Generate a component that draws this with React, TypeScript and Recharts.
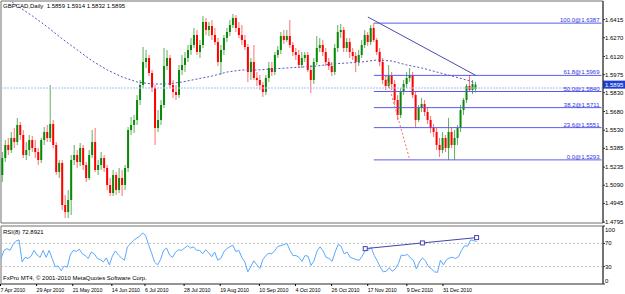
import React from 'react'
import { ComposedChart, Bar, Line, XAxis, YAxis, ReferenceLine, ReferenceArea } from 'recharts'

// GBPCAD daily, one entry per bar
const opens = [
  1.5172, 1.5308, 1.5412, 1.5372, 1.5468, 1.5436, 1.5572, 1.5492, 1.5332, 1.5372,
  1.5452, 1.5388, 1.5356, 1.5292, 1.5452, 1.5516, 1.5468, 1.5580, 1.5412, 1.5196,
  1.5268, 1.4932, 1.4876, 1.4972, 1.5292, 1.5332, 1.5276, 1.5388, 1.5252, 1.5148,
  1.5332, 1.5436, 1.5212, 1.5252, 1.5308, 1.5228, 1.5092, 1.5028, 1.5172, 1.5052,
  1.5148, 1.5092, 1.5228, 1.5532, 1.5572, 1.5612, 1.5772, 1.5892, 1.6076, 1.6108,
  1.5988, 1.5868, 1.5548, 1.5612, 1.5732, 1.6044, 1.6108, 1.5892, 1.5836, 1.5812,
  1.6012, 1.6052, 1.6108, 1.6172, 1.6212, 1.6292, 1.6156, 1.6212, 1.6396, 1.6332,
  1.6364, 1.6292, 1.6236, 1.6076, 1.6172, 1.6268, 1.6316, 1.6372, 1.6428, 1.6348,
  1.6292, 1.6252, 1.6196, 1.5996, 1.6076, 1.5948, 1.5932, 1.5892, 1.5836, 1.5948,
  1.6028, 1.5996, 1.6132, 1.6172, 1.6284, 1.6252, 1.6284, 1.6212, 1.6156, 1.6132,
  1.6052, 1.6108, 1.6132, 1.6012, 1.5932, 1.6076, 1.6188, 1.6212, 1.6156, 1.6076,
  1.6044, 1.5996, 1.6188, 1.6316, 1.6332, 1.6188, 1.6236, 1.6156, 1.6124, 1.6076,
  1.6132, 1.6212, 1.6292, 1.6236, 1.6348, 1.6252, 1.6156, 1.6076, 1.5932, 1.5884,
  1.5964, 1.5900, 1.5772, 1.5652, 1.5836, 1.5900, 1.5948, 1.5972, 1.5812, 1.5612,
  1.5708, 1.5740, 1.5676, 1.5612, 1.5548, 1.5516, 1.5412, 1.5372, 1.5468, 1.5388,
  1.5516, 1.5412, 1.5468, 1.5548, 1.5692, 1.5772, 1.5884, 1.5852, 1.5859,
]
const highs = [
  1.5356, 1.5452, 1.5468, 1.5516, 1.5548, 1.5628, 1.5596, 1.5532, 1.5436, 1.5492,
  1.5484, 1.5452, 1.5388, 1.5468, 1.5556, 1.5572, 1.5892, 1.5612, 1.5436, 1.5292,
  1.5292, 1.5012, 1.5052, 1.5332, 1.5412, 1.5372, 1.5428, 1.5412, 1.5276, 1.5372,
  1.5532, 1.5548, 1.5292, 1.5356, 1.5332, 1.5252, 1.5148, 1.5212, 1.5196, 1.5228,
  1.5212, 1.5252, 1.5556, 1.5636, 1.5652, 1.5812, 1.5932, 1.6196, 1.6172, 1.6132,
  1.6012, 1.5892, 1.5692, 1.5772, 1.6188, 1.6172, 1.6132, 1.5932, 1.5892, 1.6052,
  1.6132, 1.6156, 1.6212, 1.6268, 1.6348, 1.6332, 1.6252, 1.6444, 1.6428, 1.6396,
  1.6412, 1.6348, 1.6268, 1.6212, 1.6292, 1.6348, 1.6412, 1.6460, 1.6452, 1.6396,
  1.6372, 1.6292, 1.6220, 1.6108, 1.6212, 1.5996, 1.5972, 1.5916, 1.5972, 1.6076,
  1.6076, 1.6156, 1.6204, 1.6316, 1.6332, 1.6332, 1.6412, 1.6236, 1.6188, 1.6172,
  1.6156, 1.6156, 1.6156, 1.6052, 1.6108, 1.6284, 1.6268, 1.6252, 1.6188, 1.6108,
  1.6076, 1.6220, 1.6372, 1.6380, 1.6356, 1.6268, 1.6268, 1.6188, 1.6156, 1.6172,
  1.6252, 1.6332, 1.6316, 1.6372, 1.6387, 1.6268, 1.6188, 1.6108, 1.5964, 1.6052,
  1.5996, 1.5932, 1.5812, 1.5868, 1.5932, 1.5996, 1.6028, 1.5996, 1.5836, 1.5732,
  1.5788, 1.5772, 1.5708, 1.5644, 1.5580, 1.5548, 1.5468, 1.5516, 1.5492, 1.5628,
  1.5548, 1.5532, 1.5572, 1.5732, 1.5788, 1.5900, 1.5969, 1.5932, 1.5914,
]
const lows = [
  1.5116, 1.5276, 1.5332, 1.5348, 1.5388, 1.5412, 1.5452, 1.5308, 1.5292, 1.5324,
  1.5356, 1.5308, 1.5252, 1.5268, 1.5412, 1.5436, 1.5436, 1.5388, 1.5172, 1.5148,
  1.4892, 1.4828, 1.4828, 1.4852, 1.5252, 1.5228, 1.5244, 1.5212, 1.5116, 1.5132,
  1.5308, 1.5196, 1.5172, 1.5212, 1.5196, 1.5052, 1.5004, 1.5004, 1.5012, 1.5028,
  1.5004, 1.5052, 1.5196, 1.5492, 1.5508, 1.5572, 1.5732, 1.5868, 1.6028, 1.5964,
  1.5836, 1.5412, 1.5516, 1.5572, 1.5708, 1.6012, 1.5868, 1.5788, 1.5772, 1.5788,
  1.5972, 1.5996, 1.6076, 1.6132, 1.6188, 1.6132, 1.6108, 1.6188, 1.6292, 1.6284,
  1.6252, 1.6212, 1.6044, 1.5972, 1.6132, 1.6236, 1.6284, 1.6348, 1.6316, 1.6268,
  1.6212, 1.6172, 1.5916, 1.5932, 1.5932, 1.5884, 1.5852, 1.5796, 1.5812, 1.5916,
  1.5964, 1.5972, 1.6108, 1.6140, 1.6220, 1.6236, 1.6188, 1.6124, 1.6092, 1.6028,
  1.6028, 1.6076, 1.5996, 1.5828, 1.5900, 1.6052, 1.6156, 1.6124, 1.6044, 1.6012,
  1.5964, 1.5972, 1.6156, 1.6268, 1.6156, 1.6156, 1.6108, 1.6092, 1.5996, 1.6044,
  1.6108, 1.6188, 1.6204, 1.6212, 1.6236, 1.6132, 1.6044, 1.5900, 1.5852, 1.5868,
  1.5852, 1.5732, 1.5612, 1.5628, 1.5812, 1.5868, 1.5916, 1.5788, 1.5556, 1.5596,
  1.5676, 1.5644, 1.5580, 1.5508, 1.5476, 1.5372, 1.5316, 1.5348, 1.5356, 1.5293,
  1.5388, 1.5293, 1.5412, 1.5516, 1.5652, 1.5748, 1.5836, 1.5820, 1.5832,
]
const closes = [
  1.5308, 1.5412, 1.5372, 1.5468, 1.5436, 1.5572, 1.5492, 1.5332, 1.5372, 1.5452,
  1.5388, 1.5356, 1.5292, 1.5452, 1.5516, 1.5468, 1.5580, 1.5412, 1.5196, 1.5268,
  1.4932, 1.4876, 1.4972, 1.5292, 1.5332, 1.5276, 1.5388, 1.5252, 1.5148, 1.5332,
  1.5436, 1.5212, 1.5252, 1.5308, 1.5228, 1.5092, 1.5028, 1.5172, 1.5052, 1.5148,
  1.5092, 1.5228, 1.5532, 1.5572, 1.5612, 1.5772, 1.5892, 1.6076, 1.6108, 1.5988,
  1.5868, 1.5548, 1.5612, 1.5732, 1.6044, 1.6108, 1.5892, 1.5836, 1.5812, 1.6012,
  1.6052, 1.6108, 1.6172, 1.6212, 1.6292, 1.6156, 1.6212, 1.6396, 1.6332, 1.6364,
  1.6292, 1.6236, 1.6076, 1.6172, 1.6268, 1.6316, 1.6372, 1.6428, 1.6348, 1.6292,
  1.6252, 1.6196, 1.5996, 1.6076, 1.5948, 1.5932, 1.5892, 1.5836, 1.5948, 1.6028,
  1.5996, 1.6132, 1.6172, 1.6284, 1.6252, 1.6284, 1.6212, 1.6156, 1.6132, 1.6052,
  1.6108, 1.6132, 1.6012, 1.5932, 1.6076, 1.6188, 1.6212, 1.6156, 1.6076, 1.6044,
  1.5996, 1.6188, 1.6316, 1.6332, 1.6188, 1.6236, 1.6156, 1.6124, 1.6076, 1.6132,
  1.6212, 1.6292, 1.6236, 1.6348, 1.6252, 1.6156, 1.6076, 1.5932, 1.5884, 1.5964,
  1.5900, 1.5772, 1.5652, 1.5836, 1.5900, 1.5948, 1.5972, 1.5812, 1.5612, 1.5708,
  1.5740, 1.5676, 1.5612, 1.5548, 1.5516, 1.5412, 1.5372, 1.5468, 1.5388, 1.5516,
  1.5412, 1.5468, 1.5548, 1.5692, 1.5772, 1.5884, 1.5852, 1.5900, 1.5895,
]
const rsiValues = [
  44, 58, 61, 58, 68, 74, 76, 38, 46, 44,
  48, 58, 50, 46, 58, 46, 58, 44, 30, 31,
  23, 31, 29, 50, 58, 56, 60, 52, 49, 44,
  55, 52, 44, 42, 38, 45, 33, 48, 57, 50,
  45, 41, 64, 69, 75, 79, 82, 88, 84, 68,
  54, 38, 33, 42, 58, 62, 50, 46, 55, 59,
  58, 62, 66, 62, 64, 58, 58, 52, 59, 54,
  47, 55, 41, 44, 55, 61, 64, 67, 56, 58,
  46, 38, 21, 30, 40, 33, 27, 42, 49, 53,
  52, 58, 65, 66, 68, 70, 58, 49, 49, 46,
  39, 49, 48, 32, 40, 57, 64, 57, 46, 44,
  39, 55, 68, 65, 52, 55, 46, 44, 42, 41,
  48, 58, 58, 63, 49, 40, 29, 21, 22, 28,
  22, 26, 35, 50, 49, 51, 45, 41, 26, 38,
  45, 40, 30, 26, 21, 20, 41, 33, 42, 45,
  46, 44, 47, 58, 66, 65, 76, 75, 72.89,
]
// moving average, read every 5 bars
const maIdx = [0, 5, 10, 15, 20, 25, 30, 35, 40, 45, 50, 55, 60, 65, 70, 75, 80, 85, 90, 95, 100, 105, 110, 115, 120, 125, 130, 135, 140, 145, 150, 155, 158]
const maValues = [
  1.6612, 1.6524, 1.6444, 1.6356, 1.6260, 1.6172, 1.6084, 1.6012, 1.5956, 1.5916,
  1.5900, 1.5900, 1.5916, 1.5940, 1.5964, 1.5996, 1.6012, 1.6012, 1.6020, 1.6028,
  1.6036, 1.6044, 1.6060, 1.6068, 1.6076, 1.6092, 1.6084, 1.6052, 1.6028, 1.5996,
  1.5964, 1.5932, 1.5908,
]

const fibPrices = [1.6387, 1.5969, 1.5840, 1.5711, 1.5551, 1.5293]
const fibNames = ['100.0@1.6387', '61.8@1.5969', '50.0@1.5840', '38.2@1.5711', '23.6@1.5551', '0.0@1.5293']
const fibFrom = 124

const trendIdx = [122, 158]
const trendPrices = [1.6436, 1.5969]
const redTrendIdx = [128, 136]
const redTrendPrices = [1.5972, 1.5292]
const levelLine = 1.5868
const bidPrice = 1.5895

const rsiTrendIdx = [121, 140, 158]
const rsiTrendValues = [61, 70.8, 80]

const priceTicks = [1.4795, 1.4945, 1.5090, 1.5235, 1.5385, 1.5530, 1.5680, 1.5830, 1.5975, 1.6120, 1.6270, 1.6415]
const rsiTicks = [0, 30, 70, 100]
const dateIdx = [0, 12, 24, 37, 48, 61, 73, 86, 98, 110, 122, 135, 147]
const dateLabels = ['7 Apr 2010', '29 Apr 2010', '21 May 2010', '14 Jun 2010', '6 Jul 2010', '28 Jul 2010', '19 Aug 2010', '10 Sep 2010', '4 Oct 2010', '26 Oct 2010', '17 Nov 2010', '9 Dec 2010', '31 Dec 2010']

const SLOTS = 201 // bars plus the empty shift on the right
const Y_MIN = 1.4788
const Y_MAX = 1.6564
const FONT = '"Liberation Sans", Arial, sans-serif'
const FRAME = '#707070'

const rows = Array.from({ length: SLOTS }, (_, i) => {
  if (i >= closes.length) return { i }
  const m = maIdx.indexOf(i)
  const t = rsiTrendIdx.indexOf(i)
  return {
    i,
    o: opens[i],
    h: highs[i],
    l: lows[i],
    c: closes[i],
    range: [lows[i], highs[i]],
    rsi: rsiValues[i],
    ma: m >= 0 ? maValues[m] : null,
    rsiTrend: t >= 0 ? rsiTrendValues[t] : null,
  }
})

function Candle(props: any) {
  const { x, y, width, height, payload } = props
  if (payload == null || payload.h == null) return <g />
  const top = Math.min(y, y + height)
  const bot = Math.max(y, y + height)
  const k = payload.h > payload.l ? (bot - top) / (payload.h - payload.l) : 0
  const py = (v: number) => top + (payload.h - v) * k
  const up = payload.c >= payload.o
  const cx = x + width / 2
  const b1 = py(Math.max(payload.o, payload.c))
  const b2 = py(Math.min(payload.o, payload.c))
  return (
    <g>
      <line x1={cx} x2={cx} y1={top} y2={bot} stroke={up ? '#5fb05f' : '#ff7070'} strokeWidth={1} />
      <rect x={cx - 1} y={b1} width={2} height={Math.max(1, b2 - b1)} fill={up ? '#078a07' : '#ff0000'} />
    </g>
  )
}

const PriceTick = (p: any) => (
  <text x={p.x} y={p.y + 2} fontSize={6} fontFamily={FONT} fill="#000" textAnchor="start">
    {Number(p.payload.value).toFixed(4)}
  </text>
)

const RsiTick = (p: any) => {
  const v = p.payload.value
  const dy = v === 100 ? 6 : v === 0 ? -1 : 2
  return (
    <text x={p.x} y={p.y + dy} fontSize={6} fontFamily={FONT} fill="#000" textAnchor="start">{v}</text>
  )
}

const DateTick = (p: any) => {
  const k = dateIdx.indexOf(p.payload.value)
  if (k < 0) return <g />
  const x = p.x - 0.5
  return (
    <g>
      <line x1={x} x2={x} y1={p.y} y2={p.y + 2} stroke="#000" />
      <text x={x} y={p.y + 7.5} fontSize={5.3} letterSpacing={-0.1} fontFamily={FONT} fill="#000" textAnchor="start">{dateLabels[k]}</text>
    </g>
  )
}

const fibLabel = (text: string) => (p: any) => {
  const vb = p.viewBox || {}
  return (
    <text x={vb.x + vb.width - 2} y={vb.y - 1} fontSize={6} fontFamily={FONT} fill="#3434d8" textAnchor="end">{text}</text>
  )
}

const priceBox = (p: any) => {
  const vb = p.viewBox || {}
  const x = vb.x + vb.width
  return (
    <g>
      <rect x={x} y={vb.y - 4} width={22} height={8} fill="#1f3fcf" />
      <text x={x + 2} y={vb.y + 2} fontSize={6} fontFamily={FONT} fill="#fff">{bidPrice.toFixed(4)}</text>
    </g>
  )
}

const TrendDot = (p: any) => {
  if (p.value == null || p.cy == null) return <g key={`e${p.index}`} />
  return <rect key={`d${p.index}`} x={p.cx - 2} y={p.cy - 2} width={4} height={4} fill="#fff" stroke="#4444b4" strokeWidth={1} />
}

const textStyle: React.CSSProperties = {
  position: 'absolute',
  left: 3,
  fontSize: 6,
  lineHeight: '7px',
  fontFamily: FONT,
  color: '#000',
  whiteSpace: 'pre',
}

export default function App() {
  return (
    <div style={{ position: 'absolute', left: 0, top: 0, width: 625, height: 294, background: '#fff', overflow: 'hidden' }}>
      <div style={{ position: 'absolute', left: 0, top: 0 }}>
        <ComposedChart width={625} height={224} data={rows} margin={{ top: 1, right: 0, left: 1, bottom: 1 }}>
          <XAxis dataKey="i" type="category" hide />
          <YAxis
            orientation="right"
            type="number"
            domain={[Y_MIN, Y_MAX]}
            ticks={priceTicks}
            allowDataOverflow
            interval={0}
            width={22}
            tickSize={2}
            tickMargin={0}
            axisLine={{ stroke: '#303030' }}
            tickLine={{ stroke: '#303030' }}
            tick={PriceTick}
          />
          <ReferenceArea x1={0} x2={SLOTS - 1} y1={Y_MIN} y2={Y_MAX} fill="none" stroke={FRAME} ifOverflow="visible" />
          <ReferenceLine y={levelLine} stroke="#a8bcff" strokeDasharray="2 1" />
          {fibPrices.map((f, k) => (
            <ReferenceLine
              key={fibNames[k]}
              segment={[{ x: fibFrom, y: f }, { x: SLOTS - 1, y: f }]}
              stroke="#5a5af0"
              strokeWidth={1}
              label={fibLabel(fibNames[k])}
            />
          ))}
          <ReferenceLine
            segment={[{ x: trendIdx[0], y: trendPrices[0] }, { x: trendIdx[1], y: trendPrices[1] }]}
            stroke="#4a4ab8"
          />
          <ReferenceLine
            segment={[{ x: redTrendIdx[0], y: redTrendPrices[0] }, { x: redTrendIdx[1], y: redTrendPrices[1] }]}
            stroke="#f07070"
            strokeDasharray="2 2"
          />
          <Line dataKey="ma" connectNulls dot={false} stroke="#5555c4" strokeDasharray="2 2" strokeWidth={1} isAnimationActive={false} />
          <Bar dataKey="range" shape={(p: any) => <Candle {...p} />} isAnimationActive={false} />
          <ReferenceLine y={bidPrice} stroke="none" label={priceBox} />
        </ComposedChart>
      </div>
      <div style={{ position: 'absolute', left: 0, top: 224 }}>
        <ComposedChart width={625} height={70} data={rows} margin={{ top: 2, right: 0, left: 1, bottom: 0 }}>
          <XAxis
            dataKey="i"
            type="category"
            interval={0}
            height={10}
            tickSize={0}
            tickMargin={0}
            axisLine={{ stroke: FRAME }}
            tickLine={false}
            tick={DateTick}
          />
          <YAxis
            orientation="right"
            type="number"
            domain={[0, 100]}
            ticks={rsiTicks}
            interval={0}
            width={22}
            tickSize={2}
            tickMargin={0}
            axisLine={{ stroke: '#303030' }}
            tickLine={{ stroke: '#303030' }}
            tick={RsiTick}
          />
          <ReferenceArea x1={0} x2={SLOTS - 1} y1={0} y2={100} fill="none" stroke={FRAME} ifOverflow="visible" />
          <ReferenceLine y={70} stroke="#c4c4c4" strokeDasharray="2 2" />
          <ReferenceLine y={30} stroke="#c4c4c4" strokeDasharray="2 2" />
          <Line dataKey="rsi" dot={false} stroke="#5aa8ff" strokeWidth={1} isAnimationActive={false} />
          <Line dataKey="rsiTrend" connectNulls dot={TrendDot} stroke="#4444b4" strokeWidth={1} isAnimationActive={false} />
        </ComposedChart>
      </div>
      <div style={{ ...textStyle, top: 3 }}>{'GBPCAD,Daily  1.5859 1.5914 1.5832 1.5895'}</div>
      <div style={{ ...textStyle, top: 229 }}>{'RSI(8) 72.8921'}</div>
      <div style={{ ...textStyle, top: 275 }}>{'FxPro MT4, © 2001-2010 MetaQuotes Software Corp.'}</div>
    </div>
  )
}
